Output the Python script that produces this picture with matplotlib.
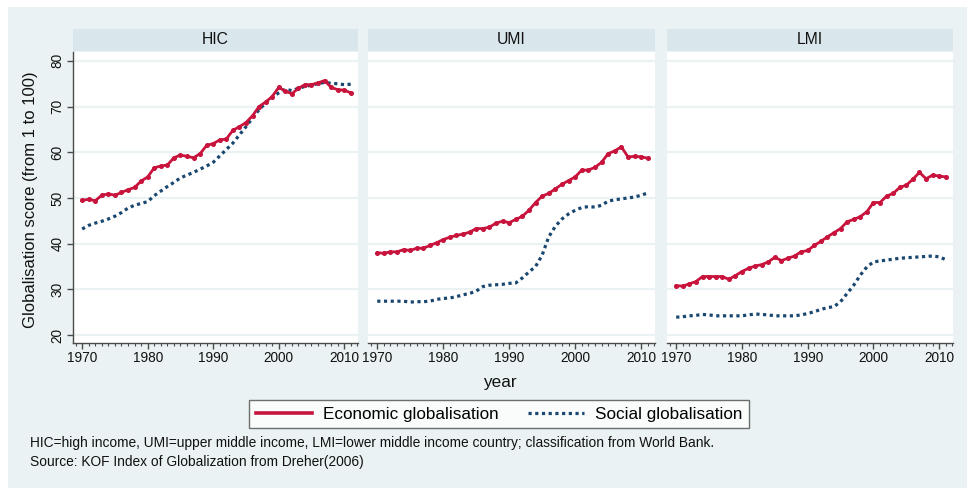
"""KOF globalisation by income group, small multiples in Stata style."""

import matplotlib

matplotlib.use("Agg")
import matplotlib.pyplot as plt
from matplotlib.lines import Line2D
from matplotlib.patches import Rectangle
from matplotlib.ticker import MultipleLocator

plt.rcParams["font.family"] = ["Liberation Sans", "DejaVu Sans"]

years = list(range(1970, 2012))
groups = ["HIC", "UMI", "LMI"]

hic_econ = [49.5, 49.7, 49.4, 50.6, 50.9, 50.6, 51.2, 51.8, 52.3, 53.7,
            54.6, 56.6, 57.0, 57.2, 58.8, 59.4, 59.1, 58.8, 59.7, 61.5,
            61.9, 62.7, 62.9, 64.8, 65.6, 66.5, 68.0, 70.0, 71.0, 72.2,
            74.2, 73.4, 72.8, 74.0, 74.8, 74.8, 75.2, 75.7, 74.2, 73.7,
            73.6, 73.0]
hic_social = [43.2, 44.0, 44.5, 44.9, 45.4, 46.0, 46.8, 47.8, 48.4, 48.8,
              49.2, 50.5, 51.5, 52.5, 53.4, 54.4, 55.0, 55.6, 56.3, 57.0,
              57.8, 59.2, 60.6, 62.0, 63.8, 65.6, 67.5, 69.3, 70.8, 72.0,
              73.0, 73.8, 73.5, 74.0, 74.4, 74.7, 75.0, 75.3, 75.1, 75.0,
              74.8, 74.9]
umi_econ = [38.0, 37.9, 38.2, 38.2, 38.7, 38.5, 39.0, 39.0, 39.6, 40.2,
            40.9, 41.4, 41.8, 42.1, 42.5, 43.3, 43.3, 43.6, 44.5, 44.9,
            44.6, 45.3, 46.0, 47.3, 49.0, 50.4, 51.0, 52.0, 53.0, 53.8,
            54.6, 56.1, 56.1, 56.7, 57.8, 59.7, 60.3, 61.2, 59.0, 59.1,
            59.0, 58.7]
umi_social = [27.4, 27.4, 27.4, 27.4, 27.4, 27.2, 27.3, 27.3, 27.4, 27.8,
              28.0, 28.1, 28.4, 28.8, 29.1, 29.6, 30.6, 30.9, 31.0, 31.1,
              31.3, 31.4, 32.5, 33.8, 35.0, 37.5, 41.5, 43.8, 45.4, 46.5,
              47.3, 47.9, 48.1, 48.0, 48.4, 49.3, 49.6, 49.8, 50.0, 50.2,
              50.6, 51.1]
lmi_econ = [30.8, 30.7, 31.2, 31.7, 32.8, 32.8, 32.8, 32.8, 32.2, 33.0,
            33.9, 34.6, 35.1, 35.4, 36.0, 37.0, 36.3, 36.8, 37.3, 38.2,
            38.5, 39.6, 40.5, 41.5, 42.4, 43.3, 44.8, 45.3, 45.9, 47.0,
            49.0, 49.0, 50.4, 51.0, 52.3, 52.8, 54.1, 55.6, 54.2, 55.0,
            54.8, 54.6]
lmi_social = [23.9, 24.0, 24.2, 24.3, 24.5, 24.4, 24.2, 24.2, 24.2, 24.2,
              24.2, 24.4, 24.6, 24.5, 24.4, 24.2, 24.2, 24.2, 24.2, 24.4,
              24.7, 25.1, 25.6, 26.0, 26.2, 27.3, 29.1, 30.9, 33.1, 34.9,
              36.0, 36.2, 36.4, 36.6, 36.8, 36.9, 37.0, 37.1, 37.2, 37.3,
              37.1, 36.5]

econ = [hic_econ, umi_econ, lmi_econ]
social = [hic_social, umi_social, lmi_social]
y_ticks = [20, 30, 40, 50, 60, 70, 80]
x_ticks = [1970, 1980, 1990, 2000, 2010]

W, H = 967, 488
BG = "#EAF2F3"
STRIP = "#D9E6EB"
RED = "#C8143C"
NAVY = "#1A476F"
AXIS = "#4A4A4A"
TEXT = "#111111"


def px_axes(fig, x0, y0, x1, y1):
    return fig.add_axes([x0 / W, 1 - y1 / H, (x1 - x0) / W, (y1 - y0) / H])


fig = plt.figure(figsize=(W / 100, H / 100), dpi=100, facecolor="white")
fig.patches.append(Rectangle((8 / W, 0), 1, 1 - 7 / H, transform=fig.transFigure,
                             facecolor=BG, edgecolor="none", zorder=-10))

panels = [(73, 358), (368, 655), (667, 953)]
for i, (x0, x1) in enumerate(panels):
    ax = px_axes(fig, x0, 52, x1, 343)
    ax.set_facecolor("white")
    ax.set_xlim(1968.6, 2012.1)
    ax.set_ylim(18.25, 81.95)
    ax.set_yticks(y_ticks)
    ax.set_xticks(x_ticks)
    ax.xaxis.set_minor_locator(MultipleLocator(1))
    ax.grid(axis="y", color=BG, linewidth=1.6, zorder=0)
    for side in ["top", "right"]:
        ax.spines[side].set_visible(False)
    ax.spines["bottom"].set_color(AXIS)
    ax.spines["bottom"].set_linewidth(1.0)
    ax.tick_params(axis="x", which="major", length=4, width=1, color=AXIS,
                   labelsize=9.8, pad=2, labelcolor=TEXT)
    ax.tick_params(axis="x", which="minor", length=2, width=0.8, color=AXIS)
    if i == 0:
        ax.spines["left"].set_color(AXIS)
        ax.spines["left"].set_linewidth(1.0)
        ax.tick_params(axis="y", length=4, width=1, color=AXIS, labelsize=9.8,
                       pad=2, labelcolor=TEXT)
        for lab in ax.get_yticklabels():
            lab.set_rotation(90)
            lab.set_va("center")
    else:
        ax.spines["left"].set_visible(False)
        ax.tick_params(axis="y", length=0, labelleft=False)

    ax.plot(years, social[i], color=NAVY, linewidth=2.3,
            linestyle=(0, (1, 1.1)), dash_capstyle="butt", zorder=3)
    ax.plot(years, econ[i], color=RED, linewidth=2.0, marker="o",
            markersize=2.6, zorder=4)

    strip = px_axes(fig, x0, 29, x1, 51)
    strip.set_facecolor(STRIP)
    strip.set_xticks([])
    strip.set_yticks([])
    for s in strip.spines.values():
        s.set_visible(False)
    strip.text(0.5, 0.5, groups[i], ha="center", va="center", fontsize=11.3,
               color=TEXT, transform=strip.transAxes)

fig.text(31 / W, 1 - 200 / H, "Globalisation score (from 1 to 100)", rotation=90,
         ha="center", va="center", fontsize=12, color=TEXT)
fig.text(500 / W, 1 - 383 / H, "year", ha="center", va="center", fontsize=12.3,
         color=TEXT)

handles = [
    Line2D([], [], color=RED, linewidth=2.6),
    Line2D([], [], color=NAVY, linewidth=2.3, linestyle=(0, (1, 1.1)),
           dash_capstyle="butt"),
]
leg = fig.legend(handles, ["Economic globalisation", "Social globalisation"],
                 loc="center", bbox_to_anchor=(499 / W, 1 - 414 / H), ncol=2,
                 frameon=True, fancybox=False, edgecolor=AXIS, facecolor="white",
                 fontsize=12.3, handlelength=3.3, columnspacing=1.75,
                 handletextpad=0.6, borderpad=0.4)
leg.get_frame().set_linewidth(1.0)

fig.text(30 / W, 1 - 443 / H,
         "HIC=high income, UMI=upper middle income, LMI=lower middle income "
         "country; classification from World Bank.",
         ha="left", va="center", fontsize=9.9, color=TEXT)
fig.text(30 / W, 1 - 462 / H, "Source: KOF Index of Globalization from Dreher(2006)",
         ha="left", va="center", fontsize=9.9, color=TEXT)

fig.savefig("out.png", dpi=100, facecolor=fig.get_facecolor())
